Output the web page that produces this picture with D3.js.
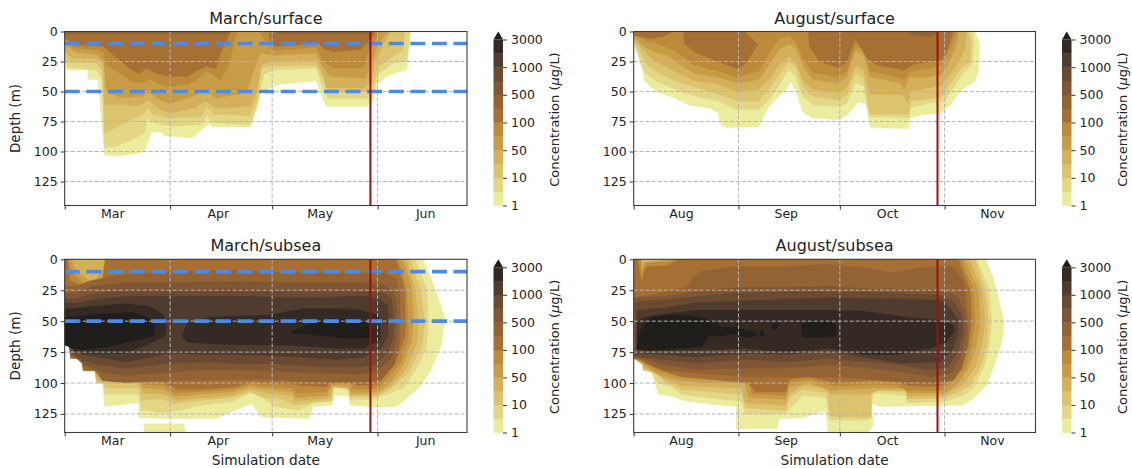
<!DOCTYPE html>
<html lang="en">
<head>
<meta charset="UTF-8">
<title>Concentration by depth</title>
<script src="https://d3js.org/d3.v7.min.js"></script>
<style>
    html, body { margin: 0; background: #fff; }
    svg { display: block; font-family: "DejaVu Sans", sans-serif; fill: #222; }
    .axis text { font-size: 12.5px; fill: #222; font-family: "DejaVu Sans", sans-serif; }
    .axis line { stroke: #333; }
    .axis path { display: none; }
</style>
</head>
<body>
<svg id="chart" width="1132" height="468"></svg>
<script>
// contour levels in ug/L, colorbar is spaced evenly per level
const levels = [1, 5, 10, 30, 50, 75, 100, 300, 500, 750, 1000, 2000, 3000];
const levelTicks = [1, 10, 50, 100, 500, 1000, 3000];
const bandColors = ["#ecec9f", "#e3d686", "#dcc46e", "#d4b05a", "#c89c46", "#bc8a39", "#a66f33",
    "#936334", "#805735", "#6b4a32", "#4f3c2e", "#352a23", "#1f1e1a"];
const depthTicks = [0, 25, 50, 75, 100, 125];
const marchMonths = ["Mar", "Apr", "May", "Jun"];
const augustMonths = ["Aug", "Sep", "Oct", "Nov"];
const sampleDepths = [10, 50];   // dashed sampling depths, March runs only

// every outline below is [days since the 1st of the first month, depth in m]
const marchSurfaceBands = [
    [[[0,0],[0,23],[0.6,32],[6.8,32],[6.8,40],[9.8,40],[11.7,103],[16,104],[23.4,100.5],[25.5,83.7],[28.7,84],[29.2,87],[37.7,88.5],[42.4,76.7],[43.5,79.5],[54.6,79.5],[57.8,51],[61,46],[63.6,44],[74,41],[74.8,48.6],[77,62.6],[89,62.6],[90.6,57],[92,44],[95,37],[100.6,31.7],[101.7,1],[101.7,0]]],
    [[[0,0],[0,22],[1,30],[9.4,32],[11,40],[11.7,97],[15,96],[23.4,85],[24.5,71],[26,76],[31,79],[40,78],[41.8,70],[43.7,76],[54.5,78],[56.5,64],[58.5,36],[61.4,32],[74,30.5],[76,47],[77.5,56],[88.8,56],[91,50],[92,36],[96.7,26],[100.6,25],[101.6,0]]],
    [[[0,0],[0,18],[1.5,26],[9.4,26],[11,33],[11.7,85],[15,80],[23.4,68],[24.5,64],[26,69],[31,72],[40,71],[41.8,63],[43.7,69],[54.5,70],[56.5,58],[57.5,30],[61.4,29],[74,28],[76,40],[77.5,50],[88.8,50],[91,42],[92,30],[96,22],[99.5,15],[100,0]]],
    [[[0,0],[0,15],[2,22],[9.5,23],[11.4,26],[11.7,61],[18,61],[22,62],[24.6,57],[28,65],[31,68],[38,64],[41.3,58],[44.7,64],[54.5,62.5],[56.5,50],[58,27],[61.4,25],[74,24],[76,36],[77,47],[87.8,47],[90,41],[91.3,25],[94.2,8],[96,0]]],
    [[[0,0],[0,10],[3,17],[9.5,19],[11.4,25],[12.4,50],[16.3,55],[23,54],[24.6,50],[28,57],[31,60],[38,54],[40.8,48.6],[44.7,55.5],[53.5,51],[55.5,33],[57.5,18],[61.4,20],[74,18],[76,30],[78,37.5],[88.3,39],[90.3,25],[92.7,8],[95.2,0]]],
    [[[0,0],[0,6],[3,14],[9.5,15],[11.4,18],[12.4,28],[15.3,33],[19.7,41.7],[23,43],[24.6,39],[28,44],[31,46],[36,44],[38,42],[41.8,33],[45.7,40],[48,30],[50.6,1],[51,0]],
     [[57,0],[58.4,5],[61.4,16],[74,13],[76,25],[79,30.5],[87.8,30.5],[89.3,17],[91.8,3],[93,0]]],
    [[[0,0],[0,5],[3,11],[9.5,12],[11.4,12.5],[15.3,22],[19.7,32],[22,35],[24,30.5],[27,35],[31,37.5],[36,37.5],[39,32],[41.8,29],[44.5,31],[45.7,18],[48.6,1.5],[49,0]],
     [[60,0],[60.5,8],[61.4,12.5],[69.2,11],[74,8],[76,14],[79,17],[87,15],[89.3,8],[91.3,0]]],
    [[[0,0],[0,2],[47,2],[48,0]], [[62,0],[63,2],[89,2],[90,0]]]
];

const augustSurfaceBands = [
    [[[0,0],[0.3,11],[2.4,30.5],[3.3,41.7],[6.8,50],[11.7,55],[16,61],[22.5,64],[25,68],[25.9,78],[27.4,80],[37,79.5],[39.6,64],[43,54],[45.5,47],[46.5,41.7],[48,50],[50,67],[52.8,72],[60.7,73.6],[63,70],[66.5,59],[68.7,60],[70,80],[81.3,81],[81.8,72],[86.2,69],[91,68],[94,60],[97,48.6],[101,41.7],[102,33],[102.4,11],[101,0]]],
    [[[0,0],[0,10],[2,25],[3.3,34],[7,42],[12,48],[18,54],[25,58],[30.6,65],[37,65],[40,57],[43,45],[46,31],[48,38],[50,54],[53,61],[60.5,62.5],[63,60],[65.6,43],[68,45],[69.8,71],[81.5,72],[82,63],[87,60],[92,58],[95,45],[98,33],[100,28],[100.8,10],[100,0]]],
    [[[0,0],[0,8],[2.5,20],[4,28],[7,34],[12,41],[18,46],[25,52],[30.6,58],[37,58],[40,48],[43,36],[46,25],[48,30],[50,46],[53,54],[60.5,57],[63,53],[65.6,34],[68,38],[69.8,69],[81.5,69],[82,58],[87,56],[91,55],[94,42],[97,30],[99.5,26],[99.8,10],[99,0]]],
    [[[0,0],[0,6],[3,16],[5,22],[8,27],[12,33],[18,41],[25,44],[30.6,50],[37,48],[40,40],[43,28],[46,21],[48,26],[50,40],[53,48],[60.5,51],[63,47],[65.6,28],[68,32],[70,52],[80,53],[81,60],[82,50],[87,47],[91,45],[93,38],[96,26],[98,15],[98.5,0]]],
    [[[0,0],[0,4],[3,12],[6,17],[10,20],[14,28],[18,35],[25,38],[30.6,43],[37,40],[40,28],[43,15],[46,10],[48,14],[50,28],[53,40],[60.5,43],[63,38],[65.6,16],[68,20],[70,38],[79,43],[80,49],[81.5,38],[87,38],[91,36],[93,27],[95,15],[96,5],[96,0]]],
    [[[0,0],[0,3],[4,8],[8,11],[12,16],[18,28],[25,33],[30.6,38],[37,33],[40,18],[43,6],[46,4],[48,9],[50,22],[53,34],[60.5,38],[63,33],[65.6,12],[68,15],[70,33],[78,38],[80,40],[82,33],[87,31],[91,28],[93,18],[95,5],[95.5,0]]],
    [[[0,0],[0,3],[5,6],[9,4],[11.5,0]],
     [[14.8,0],[15,10],[18,17],[25,25],[30.6,31],[33,27],[36.7,11],[33,0]],
     [[51.7,0],[52,12],[55,25],[60.5,30],[63,26],[64.5,14],[65.6,6],[67,12],[69,22],[72,28],[80,32],[83,27],[88,25],[91,24],[93,14],[94.5,0]]],
    [[[81,0],[83,3],[88,4],[90,0]]]
];

const marchSubseaBands = [
    [[[0,0],[105.4,0],[108.4,20],[111.8,47.5],[110.8,69],[107.4,91],[104.5,103],[99.6,115],[97.6,119],[91.7,119.5],[83.9,118],[83.4,110],[79.5,110],[78.5,118],[73,119],[72,128.7],[57.8,127.5],[55,116.6],[44.5,128.7],[33.4,128.9],[21.8,128],[21.8,116],[11.7,119],[11.2,100],[9.4,100],[8.9,90],[5.5,90],[5,80],[1.8,80],[1.4,70],[0,69]],
     [[23.2,133],[35,133],[35.5,140],[23.5,140]]],
    [[[0,0],[103,0],[106.4,23],[106.9,50],[106.4,72],[103.5,88],[99.6,104],[93.7,110],[91,113],[83.9,114],[83.4,104],[79,103],[78.5,115],[73,115],[72,118],[68.5,122],[62,119],[57.5,111],[54.5,108],[49.6,115],[39.8,118],[34,122],[29,124],[22.5,122],[21.7,109],[11.9,109],[11.2,100],[9.4,100],[8.9,90],[5.5,90],[5,80],[1.8,80],[1.4,70],[0,69]]],
    [[[0,0],[101.5,0],[104.5,23],[105.9,50],[105,70],[101,92],[96,104],[92,111],[84,111],[83.4,105],[79,103.5],[78.5,114],[67.5,118],[64,113],[59,112],[54.5,107],[49.6,112],[39.8,114],[34,116],[32,117],[29,113],[22.5,114],[21.7,104],[12,104],[11.2,100],[9.4,100],[8.9,90],[5.5,90],[5,80],[1.8,80],[1.4,70],[0,69]]],
    [[[0,0],[100.5,0],[103,23],[104,50],[103.5,68],[100,90],[96,102],[92,109],[84,110],[83.4,104],[79,103],[78,112],[67.5,115],[67,110],[60,108],[54.5,105],[49.6,110],[39.8,112],[33,114],[29,109],[23,108],[21.7,100],[11.2,99],[9.4,98],[8.9,90],[5.5,90],[5,80],[1.8,80],[1.4,70],[0,69]]],
    [[[0,0],[2,0],[3,8],[6,15],[8.4,20],[10,13],[11.4,8],[11.8,0],[99.5,0],[102,23],[102.5,50],[102,66],[99.5,85],[96,99],[92,107],[84.5,108],[83.4,102],[78.5,102],[77,110],[68,112],[67,107],[60,105],[54.5,103],[49.6,107],[39.8,109],[32,111],[29,105],[23,104],[21.7,98],[10.5,97],[8.9,90],[5.5,90],[5,80],[1.8,80],[1.4,70],[0,69]]],
    [[[0,0],[1,0],[2,10],[5,19],[8.4,23],[11,18],[12,0],[98,0],[100.5,23],[101,50],[101,64],[99,82],[95,96],[92,104],[85,105],[84,100],[78.5,100],[77,107],[68.5,108],[67,104],[60,103],[54.5,101],[49.6,105],[39.8,107],[32,108],[29,102],[23.5,101],[21.7,96],[9.8,94],[8.9,90],[5.5,90],[5,80],[1.8,80],[1.4,70],[0,69]]],
    [[[0,0],[0.8,0],[1.5,17],[5,22],[8.4,25],[11,20],[12,0],[97.5,0],[100,25],[100.2,50],[100,62],[98,78],[95,92],[92,101],[86,102],[84,98],[78.5,98],[77,103],[69,102],[68,101],[61,100],[55,99],[50,103],[40,105],[33,105],[29,99],[23.5,97],[20,94],[9.4,92],[8.9,90],[5.5,90],[5,80],[1.8,80],[1.4,70],[0,69]]],
    [[[0,22],[3,22],[8,17],[18,12],[31,10],[50,9],[70,11],[87,11],[94,11],[97.5,16],[98.6,30],[98.6,65],[97,85],[93,97],[87,100],[76,100],[66,98],[58,97],[50,97],[40,98],[31,98],[18,100],[11,98],[9.4,90],[5.5,88],[5,80],[1.8,79],[1.4,70],[0,69]]],
    [[[0,28],[3,27],[8,22],[18,19],[31,19],[50,18],[70,19],[87,19],[93,20],[96.5,26],[97.6,35],[97.6,65],[96,80],[92,90],[87,93],[76,92],[66,91],[58,90],[50,89],[40,89],[31,91],[18,94],[11,91],[8.5,88],[5.5,85],[3,79],[1.8,77],[1.4,70],[0,69]]],
    [[[0,32],[3,32],[8,28],[18,25],[31,25],[50,24],[70,25],[87,25],[93,26],[96,32],[96.6,40],[96.6,62],[95,75],[91,85],[87,87],[76,87],[66,85],[58,84],[50,84],[40,83],[31,84],[18,88],[10,85],[5.5,82],[2,76],[1.4,70],[0,69]]],
    [[[0,35],[3,36],[8,33],[18,30],[31,30],[50,30],[70,31],[87,30],[92,31],[95,38],[95.1,50],[95,62],[93,72],[88,79],[80,81],[70,79],[60,78],[50,77],[40,77],[31,76],[18,83],[10,79],[5,77],[1.4,69],[0,69]]],
    [[[0,40],[3,40],[8,38],[18,36],[25,38],[29,45],[30,55],[29.5,62],[25,68],[18,76],[8,76],[3,75],[1.4,69],[0,69]],
     [[34.5,62],[36,52],[42,47],[50,46],[60,45],[70,40],[80,40],[87,41],[92,45],[92.7,50],[92.7,65],[88,72],[80,72],[70,70],[60,69],[50,69],[42,68],[36,67]]],
    [[[0,47],[5,46],[12,44],[20,43],[25,48],[26.6,55],[26,62],[20,66],[12,71],[5,73],[2,72],[0,69]],
     [[67,58],[72,52],[78,48],[85,49],[89.8,50],[89.8,63],[84,64],[76,62],[70,60],[67,60]]]
];

const augustSubseaBands = [
    [[[0,0],[104.2,0],[106.4,15],[109.4,47.5],[109.4,61],[107.9,77],[104.5,101.6],[100.5,112.4],[97.5,118],[72.9,119],[70.4,116.5],[70.9,134],[69.4,140],[57.5,140],[57,125],[56.3,123],[50,128],[43,129],[42.5,137],[30.3,137],[30.3,119],[22,117],[14,114],[11.7,111],[7.3,109],[5.3,91],[2.8,89.5],[2.6,80],[0,80]]],
    [[[0,0],[101.5,0],[105,23],[105.9,50],[105.4,69],[103.5,88],[100.5,104],[97.5,110],[92,115],[81,116],[80.6,110],[71,108],[69.5,130],[58,130],[57,112],[50,110],[45,124],[43,125],[33,125],[32,115],[22,112],[14,109],[11,103],[7,100],[5.3,91],[2.8,89.5],[2.6,80],[0,80]]],
    [[[0,0],[101,0],[104,25],[105,50],[104.5,69],[102.5,88],[99.5,102],[97,106],[92,112],[81,113],[80.5,107],[71,105],[70.3,106],[70.3,128],[58,127],[57.3,108],[50,105],[46,112],[45,122],[33,120],[32,109],[22,107],[14,105],[10,100],[6.5,93],[5.3,91],[2.8,89.5],[2.6,80],[0,80]]],
    [[[0,0],[99.5,0],[103,25],[104,50],[103,69],[101,88],[97,102],[92,110],[81,111],[80.5,106],[72,106],[70,109],[58,109],[57,104],[50,102],[46,109],[45,118],[33,116],[32,104],[22,103],[14,102],[9,97],[6.5,91],[2.8,88],[2.6,80],[0,80]]],
    [[[0,0],[2.2,0],[2.4,10],[3,3],[11,0],[98,0],[102,25],[102.5,50],[101.5,69],[99,88],[96,100],[92,108],[81,108],[80,104],[70,104],[58,106],[52,100],[46,103],[45,113],[34,112],[33,100],[22,100],[14,98],[8,94],[5.3,90],[2.7,85],[0,80]]],
    [[[0,0],[2,0],[2.4,17],[3,7],[4,3],[10,2],[12,0],[97,0],[100.5,25],[101,50],[100,69],[98,88],[95,97],[91,106],[81,106],[78,102],[70,101],[60,103],[52,97],[46,100],[45,110],[35,109],[34,98],[22,96],[14,95],[7,90],[3,84],[0,80]]],
    [[[0,0],[1.2,0],[1.8,12],[2.4,20],[3,10],[4,6],[10,5],[13.5,0],[96,0],[99.5,25],[100,50],[99,69],[96.5,88],[93.5,98],[90,103],[81,102],[78,99],[70,98],[60,100],[52,95],[46,97],[45,107],[36,107],[34,100],[22,97],[14,95],[7,88],[3,82],[0,80]]],
    [[[0,34],[1.4,30],[8.7,27],[16,22],[17,16.5],[19.5,10],[30,6],[45,6],[58,4],[68,7],[76.8,11],[84.7,7],[90.6,6],[94.6,6],[97.5,18],[99,50],[99,69],[97,88],[94.6,97.6],[87.7,100],[79.8,99],[70,97],[58,95],[45,95],[33,95],[18.5,92],[8.7,89.5],[3.8,84],[1.4,80],[0,80]]],
    [[[0,31],[8.7,30],[18.5,26],[30,23],[58,22],[70,24],[90.6,25],[95.6,29],[98,42],[98.5,58],[97,77],[94,92],[87.7,95],[79.8,91],[70,88],[58,85],[45,88],[33,88],[18.5,89],[8.7,85],[3.8,81],[0,79]]],
    [[[0.5,36],[1.4,34],[8.7,33],[18.5,30],[30,27],[58,26],[75,27],[90.6,29],[94.6,34],[97,45],[97.5,58],[96,74.6],[93,86.8],[86.7,89.4],[78.8,85],[70,83],[58,80],[45,83],[33,81],[18.5,84],[8.7,81],[2.8,79],[0.5,78]]],
    [[[1,42],[1.4,41],[8.7,39.5],[18.5,35],[30,34],[58,31],[75,32],[90.6,33],[93.6,39],[96,50],[96,61],[94,74.6],[90.6,83],[79.8,84],[70,80],[58,74.6],[45,77],[33,76],[18.5,79],[8.7,77],[1,76]]],
    [[[1,50],[2.8,47.5],[4.8,46],[18.5,41],[31,41],[58,41],[68,42],[82.8,47.5],[89.7,49],[94.6,53],[95,58],[92.6,66.5],[87.7,72],[78,77],[68,77],[58,72],[45,75],[33,72],[23.4,73],[3.8,74],[0.9,73]]],
    [[[0.9,72],[1.5,62],[2.5,55],[5,47],[10,45],[14,45],[19,47],[24,50],[26,55],[30,55],[33,57],[36,59],[36.5,62],[33,63],[30,60],[26,62],[22,62],[20.5,70],[14,72],[8,73],[3,73]],
     [[37.5,58],[38.5,58],[38.5,62],[37.5,62]],
     [[41,53],[43,51],[42.5,56],[41,57]],
     [[49.5,58],[50,52],[54,50],[58,50],[60,54],[60,62],[56,63],[50,63]]]
];

const svg = d3.select("#chart");
const dayMs = 864e5;

function drawPanel(p) {
    const start = Date.UTC(2019, p.firstMonth, 1);
    const x = d3.scaleUtc().domain([start, start + p.spanDays * dayMs]).range([p.left, p.right]);
    const y = d3.scaleLinear().domain([0, p.maxDepth]).range([p.top, p.bottom]);
    const clipId = "clip" + Math.round(p.left) + Math.round(p.top);

    svg.append("clipPath").attr("id", clipId).append("rect")
        .attr("x", p.left).attr("y", p.top)
        .attr("width", p.right - p.left).attr("height", p.bottom - p.top);

    const outline = d3.line()
        .x(d => x(start + d[0] * dayMs))
        .y(d => y(d[1]))
        .curve(d3.curveLinearClosed);

    const plot = svg.append("g").attr("clip-path", `url(#${clipId})`);
    p.bands.forEach((band, i) => {
        plot.selectAll(null).data(band).enter().append("path")
            .attr("d", outline)
            .attr("fill", bandColors[i])
            .attr("stroke", bandColors[i])
            .attr("stroke-width", 0.4);
    });

    const monthStarts = d3.range(4).map(i => Date.UTC(2019, p.firstMonth + i, 1));
    const monthMiddles = d3.range(4).map(i => Date.UTC(2019, p.firstMonth + i, 15));

    plot.selectAll(".vgrid").data(monthStarts.slice(1)).enter().append("line")
        .attr("x1", d => x(d)).attr("x2", d => x(d))
        .attr("y1", p.top).attr("y2", p.bottom)
        .attr("stroke", "#b4b4b4").attr("stroke-width", 1).attr("stroke-dasharray", "4 2");
    plot.selectAll(".hgrid").data(depthTicks.slice(1)).enter().append("line")
        .attr("x1", p.left).attr("x2", p.right)
        .attr("y1", d => y(d)).attr("y2", d => y(d))
        .attr("stroke", "#b4b4b4").attr("stroke-width", 1).attr("stroke-dasharray", "4 2");

    if (p.dashed) {
        plot.selectAll(".sample").data(sampleDepths).enter().append("line")
            .attr("x1", p.left).attr("x2", p.right)
            .attr("y1", d => y(d)).attr("y2", d => y(d))
            .attr("stroke", "#4f8ae2").attr("stroke-width", 3.6).attr("stroke-dasharray", "15 6.6");
    }

    plot.append("line")
        .attr("x1", x(start + p.spillEnd * dayMs)).attr("x2", x(start + p.spillEnd * dayMs))
        .attr("y1", p.top).attr("y2", p.bottom)
        .attr("stroke", "#9c0f0f").attr("stroke-width", 2);

    svg.append("rect")
        .attr("x", p.left).attr("y", p.top)
        .attr("width", p.right - p.left).attr("height", p.bottom - p.top)
        .attr("fill", "none").attr("stroke", "#3c3c3c").attr("stroke-width", 1.1);

    svg.append("g").attr("class", "axis")
        .attr("transform", `translate(0,${p.bottom})`)
        .call(d3.axisBottom(x).tickValues(monthStarts).tickFormat("").tickSize(4));
    svg.append("g").attr("class", "axis")
        .attr("transform", `translate(0,${p.bottom})`)
        .call(d3.axisBottom(x).tickValues(monthMiddles).tickSize(0).tickPadding(4)
            .tickFormat((d, i) => p.months[i]));
    svg.append("g").attr("class", "axis")
        .attr("transform", `translate(${p.left},0)`)
        .call(d3.axisLeft(y).tickValues(depthTicks).tickSize(4).tickPadding(3));

    svg.append("text")
        .attr("x", (p.left + p.right) / 2).attr("y", p.top - 8)
        .attr("text-anchor", "middle").attr("font-size", 16)
        .text(p.title);

    if (p.left < 100) {
        svg.append("text")
            .attr("transform", `translate(20,${(p.top + p.bottom) / 2}) rotate(-90)`)
            .attr("text-anchor", "middle").attr("font-size", 13.5)
            .text("Depth (m)");
    }
    if (p.top > 100) {
        svg.append("text")
            .attr("x", (p.left + p.right) / 2).attr("y", p.bottom + 32)
            .attr("text-anchor", "middle").attr("font-size", 13.7)
            .text("Simulation date");
    }

    // colorbar with one block per level step and the overflow arrow on top
    const barLeft = p.right + 26.5, barWidth = 9.5;
    const barTop = p.top + 8, barBottom = p.bottom;
    const c = d3.scalePoint().domain(levels).range([barBottom, barTop]);
    svg.selectAll(null).data(levels.slice(0, -1)).enter().append("rect")
        .attr("x", barLeft).attr("width", barWidth)
        .attr("y", (d, i) => c(levels[i + 1]))
        .attr("height", (d, i) => c(d) - c(levels[i + 1]) + 0.3)
        .attr("fill", (d, i) => bandColors[i]);
    svg.append("path")
        .attr("d", d3.line()([[barLeft, barTop], [barLeft + barWidth / 2, p.top], [barLeft + barWidth, barTop]]) + "Z")
        .attr("fill", bandColors[12]);
    svg.append("g").attr("class", "axis")
        .attr("transform", `translate(${barLeft + barWidth},0)`)
        .call(d3.axisRight(c).tickValues(levelTicks).tickSize(4).tickPadding(4));
    const label = svg.append("text")
        .attr("transform", `translate(${barLeft + 65},${(barTop + barBottom) / 2 - 3}) rotate(-90)`)
        .attr("text-anchor", "middle").attr("font-size", 13);
    label.append("tspan").text("Concentration (");
    label.append("tspan").attr("font-style", "italic").text("\u03bc");
    label.append("tspan").text("g/L)");
}

drawPanel({ title: "March/surface", bands: marchSurfaceBands, months: marchMonths, firstMonth: 2, spanDays: 118.3, spillEnd: 89.9,
    left: 64.7, right: 467, top: 31.5, bottom: 205.5, maxDepth: 145, dashed: true });
drawPanel({ title: "August/surface", bands: augustSurfaceBands, months: augustMonths, firstMonth: 7, spanDays: 118.9, spillEnd: 89.9,
    left: 633.7, right: 1035.5, top: 31.5, bottom: 205.5, maxDepth: 145, dashed: false });
drawPanel({ title: "March/subsea", bands: marchSubseaBands, months: marchMonths, firstMonth: 2, spanDays: 118.3, spillEnd: 89.9,
    left: 64.7, right: 467, top: 259.3, bottom: 432.5, maxDepth: 140, dashed: true });
drawPanel({ title: "August/subsea", bands: augustSubseaBands, months: augustMonths, firstMonth: 7, spanDays: 118.9, spillEnd: 89.9,
    left: 633.7, right: 1035.5, top: 259.3, bottom: 432.5, maxDepth: 140, dashed: false });
</script>
</body>
</html>
